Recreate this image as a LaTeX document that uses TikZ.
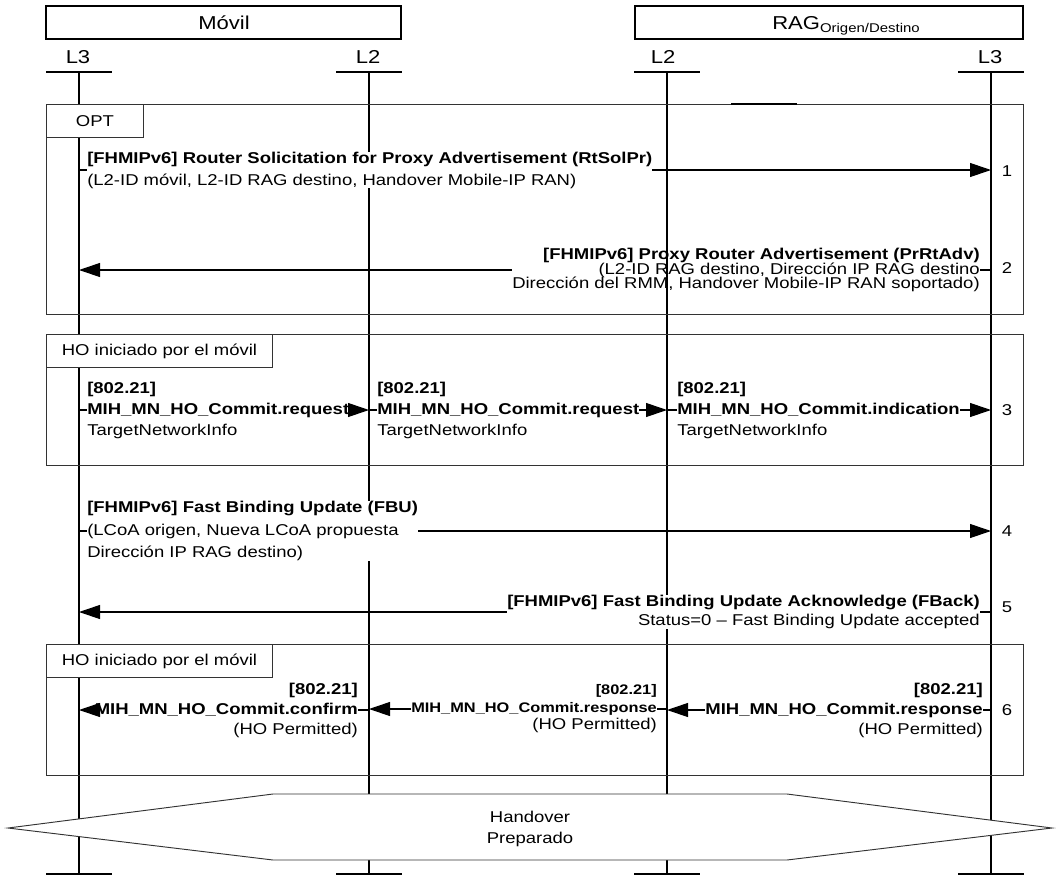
\documentclass[tikz,border=0pt]{standalone}
\usepackage{fontspec}
\setmainfont{Liberation Sans}[FakeStretch=1.18]
\usetikzlibrary{arrows.meta, calc}

\newcommand{\fmsg}{\fontsize{11.75pt}{15pt}\selectfont}
\newcommand{\ftit}{\fontsize{14pt}{16pt}\selectfont}
\newcommand{\fmin}{\fontsize{10.4pt}{12pt}\selectfont}
\newcommand{\fsub}{\fontsize{9.5pt}{10pt}\selectfont}

\begin{document}
\begin{tikzpicture}[
    x=0.75pt, y=-0.75pt,
    font=\fmsg,
    vida/.style={line width=1pt},
    marco/.style={draw=black!80, line width=0.7pt, anchor=north west,
                  inner sep=0pt},
    pestana/.style={marco, fill=white, minimum height=33*0.75pt},
    cabecera/.style={draw, line width=0.8pt, minimum height=33*0.75pt,
                     inner sep=0pt},
    capa/.style={font=\ftit, inner sep=0pt, anchor=base},
    texto/.style={inner sep=0pt},
    tapa/.style={texto, fill=white},
    flecha/.style={-{Triangle[length=15.75pt, width=10.5pt]}, line width=0.8pt},
    tramo/.style={line width=0.8pt}
  ]
  \useasboundingbox (0,0) rectangle (1060,875);

  \foreach \n/\x/\xt/\lbl in {l3m/79/78/L3, l2m/369/368/L2, l2r/667/663/L2, l3r/991/990/L3} {
    \coordinate (\n) at (\x,72);
    \coordinate (\n b) at (\x,874);
    \node[capa] (t\n) at (\xt,63) {\lbl};
    \draw[vida] (\n) -- (\n b);
    \draw[vida] ($(\n)+(-33,0)$) -- ($(\n)+(33,0)$);
    \draw[vida] ($(\n b)+(-33,0)$) -- ($(\n b)+(33,0)$);
  }

  \node[cabecera, minimum width=355*0.75pt] (movil) at (223.5,22.5) {};
  \node[capa] (tmovil) at (224,29) {Móvil};
  \node[cabecera, minimum width=388*0.75pt] (rag) at (829,22.5) {};
  \node[capa] (trag) at (846,29) {RAG\raisebox{-2.25pt}{\fsub Origen/Destino}};

  \node[marco, minimum width=977*0.75pt, minimum height=210*0.75pt] (opt) at (46,104) {};
  \node[pestana, minimum width=97*0.75pt] (topt) at (opt.north west) {OPT};
  \node[marco, minimum width=977*0.75pt, minimum height=131*0.75pt] (ho1) at (46,334) {};
  \node[pestana, minimum width=226*0.75pt] (tho1) at (ho1.north west) {HO iniciado por el móvil};
  \node[marco, minimum width=977*0.75pt, minimum height=131*0.75pt] (ho2) at (46,644) {};
  \node[pestana, minimum width=226*0.75pt] (tho2) at (ho2.north west) {HO iniciado por el móvil};
  \draw[line width=1.2pt] (731,104) -- (797,104);

  \draw[draw=black!80, line width=0.7pt, fill=white] (8,828) -- (273,794) -- (787,794)
    -- (1052,828) -- (787,860) -- (273,860) -- cycle;
  \node[texto, align=center] (hexa) at (530,829) {Handover\\[0.75pt]Preparado};

  \node[tapa, align=left, anchor=west] (m1) at (87,170)
    {\textbf{[FHMIPv6] Router Solicitation for Proxy Advertisement (RtSolPr)}\\[1.5pt]
     (L2-ID móvil, L2-ID RAG destino, Handover Mobile-IP RAN)};
  \draw[tramo] (l3m |- m1.west) -- (m1.west);
  \draw[flecha] (m1.east) -- (l3r |- m1.east);

  \node[texto, align=right, anchor=east,
        font={\fontsize{11.75pt}{11pt}\selectfont\lineskiplimit=-\maxdimen}] (m2) at (980,270)
    {\textbf{[FHMIPv6] Proxy Router Advertisement (PrRtAdv)}\\
     (L2-ID RAG destino, Dirección IP RAG destino\\
     Dirección del RMM, Handover Mobile-IP RAN soportado)};
  \draw[tramo] (l3r |- m2.east) -- (m2.east);
  \draw[flecha] (m2.west) -- (l3m |- m2.west);

  \foreach \n/\x/\ini/\fin/\op in {a/87/l3m/l2m/request, b/377/l2m/l2r/request, c/677/l2r/l3r/indication} {
    \node[texto, align=left, anchor=west] (m3\n) at (\x,410)
      {\textbf{[802.21]}\\[0.75pt]\textbf{MIH\_MN\_HO\_Commit.\op}\\[0.75pt]TargetNetworkInfo};
    \draw[tramo] (\ini |- m3\n.west) -- (m3\n.west);
    \draw[flecha] (m3\n.east) -- (\fin |- m3\n.east);
  }

  \node[tapa, align=left, anchor=west] (m4) at (87,531)
    {\textbf{[FHMIPv6] Fast Binding Update (FBU)}\\[1.9pt]
     (LCoA origen, Nueva LCoA propuesta\\[1.9pt]Dirección IP RAG destino)};
  \draw[tramo] (l3m |- m4.west) -- (m4.west);
  \draw[flecha] (m4.east) -- (l3r |- m4.east);

  \node[tapa, align=right, anchor=east] (m5) at (980,612)
    {\textbf{[FHMIPv6] Fast Binding Update Acknowledge (FBack)}\\[-0.75pt]
     Status=0 – Fast Binding Update accepted};
  \draw[tramo] (l3r |- m5.east) -- (m5.east);
  \draw[flecha] (m5.west) -- (l3m |- m5.west);

  \foreach \n/\x/\ini/\fin/\op in {a/983/l3r/l2r/response, c/358/l2m/l3m/confirm} {
    \node[texto, align=right, anchor=east] (m6\n) at (\x,710)
      {\textbf{[802.21]}\\\textbf{MIH\_MN\_HO\_Commit.\op}\\(HO Permitted)};
    \draw[tramo] (\ini |- m6\n.east) -- (m6\n.east);
    \draw[flecha] (m6\n.west) -- (\fin |- m6\n.west);
  }
  \node[texto, align=right, anchor=east] (m6b) at (657,709)
    {{\fmin\textbf{[802.21]}}\\[-1.5pt]{\fmin\textbf{MIH\_MN\_HO\_Commit.response}}\\[-2.25pt](HO Permitted)};
  \draw[tramo] (l2r |- m6b.east) -- (m6b.east);
  \draw[flecha] (m6b.west) -- (l2m |- m6b.west);

  \foreach \num/\y in {1/171, 2/268, 3/410, 4/531, 5/607, 6/710}
    \node[texto] (n\num) at (1007,\y) {\num};
\end{tikzpicture}
\end{document}
